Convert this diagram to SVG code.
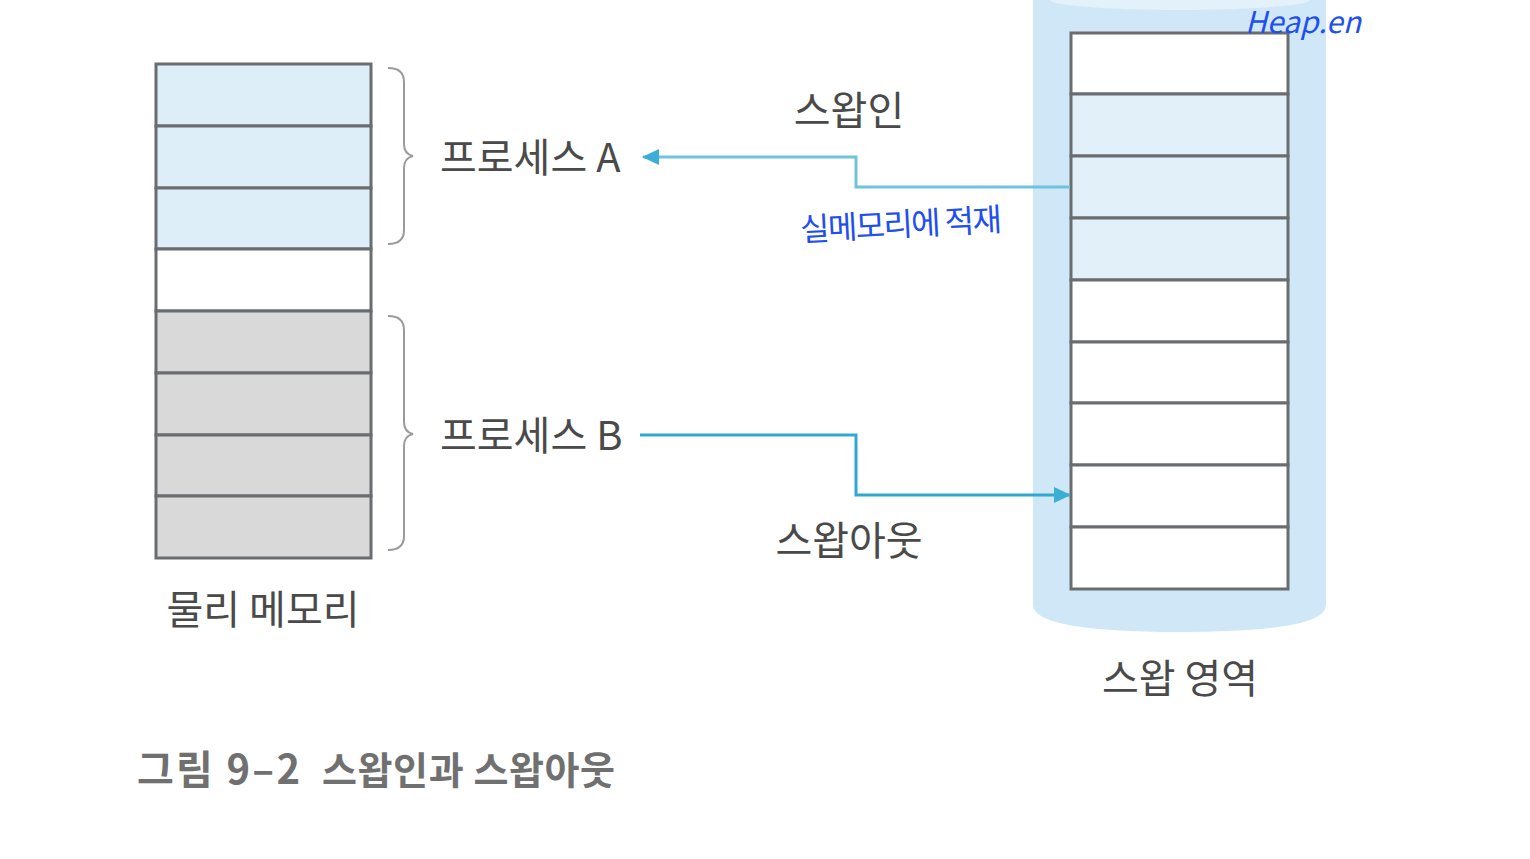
<svg xmlns="http://www.w3.org/2000/svg" width="1530" height="859" viewBox="0 0 1530 859">
<defs>
<style>
.cell{stroke:#6a6d70;stroke-width:3}
.blue{fill:#deeef8}
.blue2{fill:#e2f0f9}
.gray{fill:#d9d9d9}
.white{fill:#ffffff}
.lbl{font-family:"Noto Sans CJK KR","Noto Sans",sans-serif;font-size:40px;fill:#4a4a4a}
.brace{fill:none;stroke:#9a9a9a;stroke-width:2}
.hand{font-family:"Noto Sans CJK KR",sans-serif;fill:#1f4ff0}
</style>
<marker id="ah2" markerWidth="18" markerHeight="18" refX="16" refY="9" orient="auto" markerUnits="userSpaceOnUse" viewBox="0 0 18 18">
<path d="M0,1 L17,9 L0,17 z" fill="#3aaed5"/>
</marker>
</defs>
<rect width="1530" height="859" fill="#ffffff"/>

<g id="physical-memory">
<rect class="cell blue" x="156" y="64" width="215" height="62"/>
<rect class="cell blue" x="156" y="126" width="215" height="62"/>
<rect class="cell blue" x="156" y="188" width="215" height="61"/>
<rect class="cell white" x="156" y="249" width="215" height="62"/>
<rect class="cell gray" x="156" y="311" width="215" height="62"/>
<rect class="cell gray" x="156" y="373" width="215" height="62"/>
<rect class="cell gray" x="156" y="435" width="215" height="61"/>
<rect class="cell gray" x="156" y="496" width="215" height="62"/>
<text class="lbl" x="263" y="624" text-anchor="middle">물리 메모리</text>
</g>

<g id="process-a">
<path class="brace" d="M388,68 Q404,68 404,82 L404,144 Q404,154 413,156 Q404,158 404,168 L404,230 Q404,244 388,244"/>
<text class="lbl" x="440" y="172">프로세스 A</text>
</g>

<g id="process-b">
<path class="brace" d="M388,316 Q404,316 404,330 L404,422 Q404,432 413,434 Q404,436 404,446 L404,536 Q404,550 388,550"/>
<text class="lbl" x="440" y="450">프로세스 B</text>
</g>

<g id="swap-area">
<path d="M1033,0 L1326,0 L1326,605 Q1326,632 1180,632 Q1033,632 1033,605 Z" fill="#cfe7f7"/>
<ellipse cx="1180" cy="0" rx="130" ry="10" fill="#e2f1fa"/>
<rect class="cell white" x="1071" y="33" width="217" height="61"/>
<rect class="cell blue2" x="1071" y="94" width="217" height="62"/>
<rect class="cell blue2" x="1071" y="156" width="217" height="62"/>
<rect class="cell blue2" x="1071" y="218" width="217" height="62"/>
<rect class="cell white" x="1071" y="280" width="217" height="62"/>
<rect class="cell white" x="1071" y="342" width="217" height="61"/>
<rect class="cell white" x="1071" y="403" width="217" height="62"/>
<rect class="cell white" x="1071" y="465" width="217" height="62"/>
<rect class="cell white" x="1071" y="527" width="217" height="62"/>
<text class="lbl" x="1180" y="693" text-anchor="middle">스왑 영역</text>
</g>

<g id="connectors">
<polyline points="1070,187 856,187 856,157 643,157" fill="none" stroke="#6fc3dc" stroke-width="3" marker-end="url(#ah2)"/>
<polyline points="640,435 856,435 856,495 1070,495" fill="none" stroke="#2fa9d2" stroke-width="3" marker-end="url(#ah2)"/>
<text class="lbl" x="849" y="125" text-anchor="middle">스왑인</text>
<text class="lbl" x="849" y="555" text-anchor="middle">스왑아웃</text>
</g>

<g id="annotations">
<text class="hand" x="800" y="236" font-size="32" textLength="202" transform="rotate(-3 900 226)">실메모리에 적재</text>
<text class="hand" x="1245" y="33" font-size="30" font-style="italic">Heap.en</text>
</g>

<g id="caption" font-family="'Noto Sans CJK KR','Noto Sans',sans-serif" font-weight="bold" fill="#707070">
<text x="137" y="784" font-size="40" textLength="163">그림 9–2</text>
<text x="322" y="784" font-size="38" textLength="293">스왑인과 스왑아웃</text>
</g>
</svg>
